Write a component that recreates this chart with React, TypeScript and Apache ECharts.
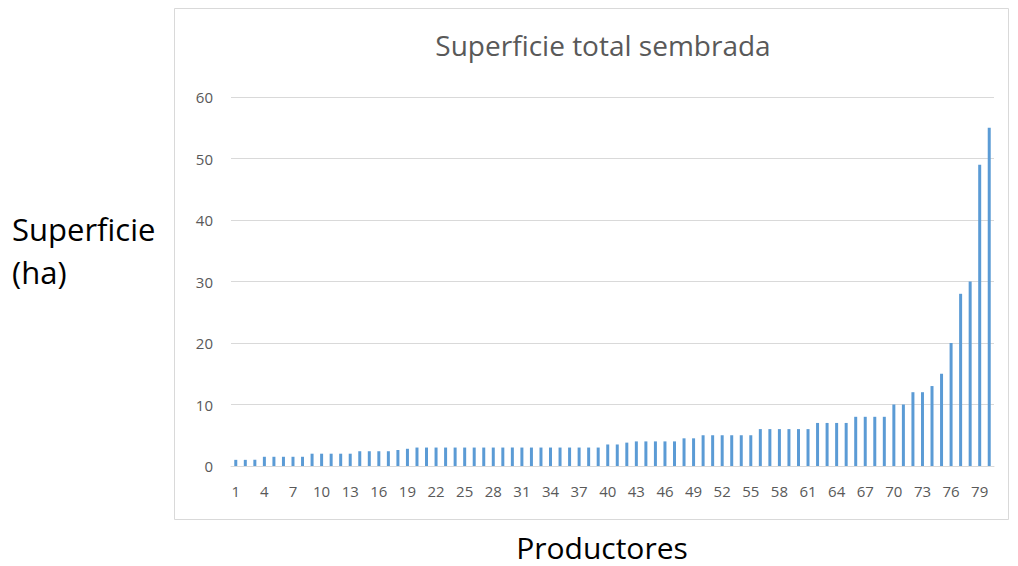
import React, { useEffect, useRef } from "react";
import * as echarts from "echarts";

const productores: string[] = Array.from({ length: 80 }, (_, i) => String(i + 1));
const superficie: number[] = [
  1, 1, 1,
  1.5, 1.5, 1.5, 1.5, 1.5,
  2, 2, 2, 2, 2,
  2.4, 2.4, 2.4, 2.4, 2.6, 2.8,
  3, 3, 3, 3, 3, 3, 3, 3, 3, 3, 3, 3, 3, 3, 3, 3, 3, 3, 3, 3,
  3.5, 3.5, 3.8,
  4, 4, 4, 4, 4,
  4.5, 4.5,
  5, 5, 5, 5, 5, 5,
  6, 6, 6, 6, 6, 6,
  7, 7, 7, 7,
  8, 8, 8, 8,
  10, 10, 12, 12, 13, 15, 20, 28, 30, 49, 55,
];
const yTicks = { min: 0, max: 60, interval: 10 };
const chartTitle = "Superficie total sembrada";
const yAxisTitle = ["Superficie", "(ha)"];
const xAxisTitle = "Productores";

export default function App() {
  const ref = useRef<HTMLDivElement>(null);
  useEffect(() => {
    if (!ref.current) return;
    const chart = echarts.init(ref.current, undefined, { renderer: "svg" });
    const font = "'Open Sans', 'Noto Sans', sans-serif";
    chart.setOption({
      animation: false,
      backgroundColor: "#ffffff",
      title: {
        text: chartTitle,
        left: 598,
        top: 26,
        textAlign: "center",
        textStyle: { fontFamily: font, fontSize: 28, fontWeight: "normal", color: "#595959" },
      },
      grid: { left: 231, right: 24, top: 97, bottom: 100 },
      xAxis: {
        type: "category",
        data: productores,
        axisTick: { show: false },
        axisLine: { lineStyle: { color: "#d9d9d9" } },
        axisLabel: { interval: 2, color: "#595959", fontSize: 15, fontFamily: font, margin: 17 },
      },
      yAxis: {
        type: "value",
        min: yTicks.min,
        max: yTicks.max,
        interval: yTicks.interval,
        axisLine: { show: false },
        axisTick: { show: false },
        splitLine: { lineStyle: { color: "#d9d9d9" } },
        axisLabel: { color: "#595959", fontSize: 15, fontFamily: font, margin: 18 },
      },
      series: [
        {
          type: "bar",
          data: superficie,
          barWidth: 3,
          itemStyle: { color: "#5b9bd5" },
        },
      ],
      graphic: [
        {
          type: "rect",
          shape: { x: 174.5, y: 8.5, width: 834, height: 511 },
          style: { fill: "none", stroke: "#d9d9d9", lineWidth: 1 },
          z: -1,
        },
        {
          type: "text",
          x: 12,
          y: 229,
          style: {
            text: yAxisTitle[0],
            font: `31px ${font}`,
            fill: "#000000",
            verticalAlign: "middle",
          },
        },
        {
          type: "text",
          x: 12,
          y: 272,
          style: {
            text: yAxisTitle[1],
            font: `31px ${font}`,
            fill: "#000000",
            verticalAlign: "middle",
          },
        },
        {
          type: "text",
          x: 602,
          y: 547,
          style: {
            text: xAxisTitle,
            font: `30px ${font}`,
            fill: "#000000",
            align: "center",
            verticalAlign: "middle",
          },
        },
      ],
    });
    return () => chart.dispose();
  }, []);
  return (
    <div
      ref={ref}
      style={{ position: "fixed", left: 0, top: 0, width: 1018, height: 566 }}
    />
  );
}
